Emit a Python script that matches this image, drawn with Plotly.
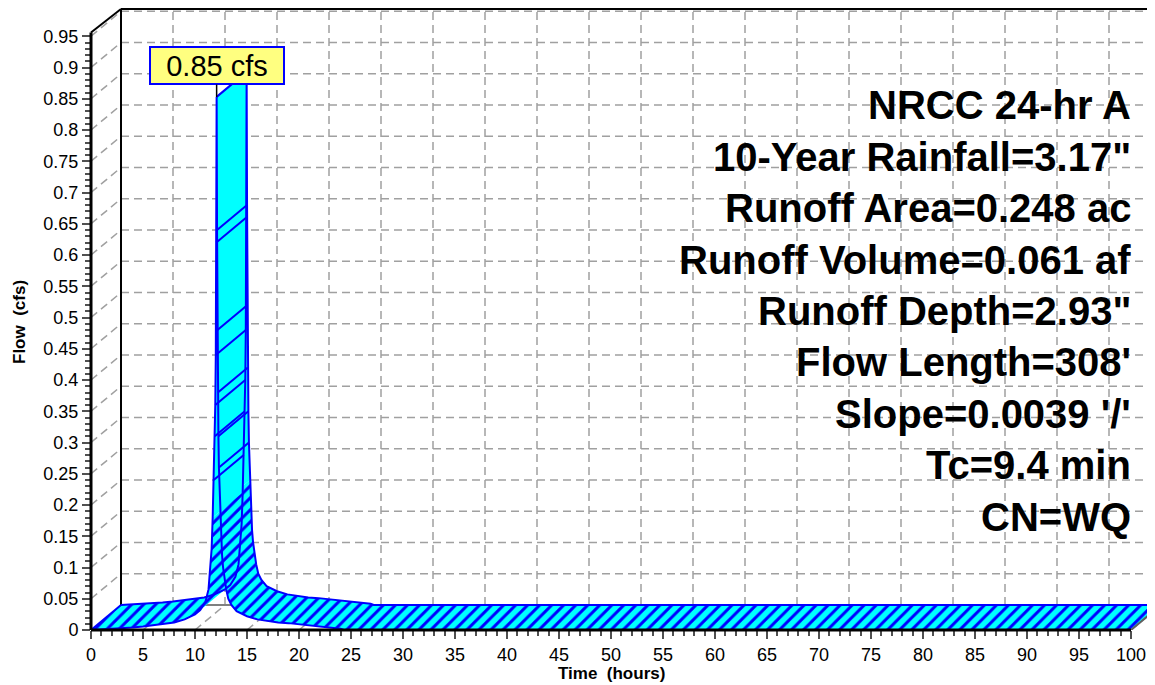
import numpy as np
import plotly.graph_objects as go

# ---------------- data ----------------
time_hr = [0, 2, 4, 5, 6, 7, 8, 9, 10, 10.5, 11.0, 11.3, 11.5, 11.6, 11.7, 11.8,
           11.9, 11.95, 12.0, 12.05, 12.08, 12.12, 12.16, 12.2, 12.25, 12.3, 12.4,
           12.5, 12.6, 12.7, 12.8, 13.0, 13.2, 13.5, 14.0, 15.0, 16.0, 17.0, 18.0,
           19.0, 20.0, 21.0, 22.0, 23.0, 24.0, 24.3, 100]
flow_cfs = [0, 0.0016, 0.004, 0.0055, 0.0075, 0.0096, 0.012, 0.017, 0.025, 0.032,
            0.045, 0.065, 0.10, 0.13, 0.18, 0.24, 0.31, 0.36, 0.44, 0.62, 0.853,
            0.64, 0.48, 0.38, 0.31, 0.26, 0.20, 0.15, 0.12, 0.10, 0.085, 0.065,
            0.05, 0.04, 0.03, 0.022, 0.017, 0.014, 0.012, 0.011, 0.009, 0.008,
            0.006, 0.004, 0.002, 0.0, 0.0]

x_tick_vals = list(range(0, 101, 5))
x_minor_vals = list(range(0, 101, 1))
y_tick_vals = [round(0.05 * i, 2) for i in range(20)]
y_tick_text = ["0", "0.05", "0.1", "0.15", "0.2", "0.25", "0.3", "0.35", "0.4", "0.45",
               "0.5", "0.55", "0.6", "0.65", "0.7", "0.75", "0.8", "0.85", "0.9", "0.95"]
y_minor_vals = [round(0.01 * i, 2) for i in range(96)]

info_lines = ["NRCC 24-hr A", "10-Year Rainfall=3.17\"", "Runoff Area=0.248 ac",
              "Runoff Volume=0.061 af", "Runoff Depth=2.93\"", "Flow Length=308'",
              "Slope=0.0039 '/'", "Tc=9.4 min", "CN=WQ"]

# ---------------- geometry (page pixels) ----------------
PAGE_OFF = 8                 # browser body margin
PW, PH = 1155, 685
PL, PB, PR, PT = 91, 630, 1155, 8   # plot area on the page
W, H = PW - PAGE_OFF, PH - PAGE_OFF
ML, MT = PL - PAGE_OFF, PT - PAGE_OFF
MR = (PW - PR)
MB = H - (PB - PAGE_OFF)
SX = 10.4      # px per hour
SY = 625.0     # px per cfs
XMAX = (PR - PL) / SX
YMAX = (PB - PT) / SY
DPX, DPY = 30, 25            # depth offset in px
DX, DY = DPX / SX, DPY / SY  # depth offset in data units
TOP = (PB - 9) / SY
FRONT_TOP = 0.956

def px(xv):
    return xv / XMAX

def py(yv):
    return yv / YMAX

def pgx(xp):
    return (xp - PL) / (PR - PL)

def pgy(yp):
    return (PB - yp) / (PB - PT)

t = np.array(time_hr, dtype=float)
q = np.array(flow_cfs, dtype=float)
n = len(t)

FONT = "Liberation Sans, Arial, sans-serif"
GRID = "#A0A0A0"

shapes = []

def seg(x0, y0, x1, y1, color, width, dash=None, layer="below", ref="data"):
    line = dict(color=color, width=width)
    if dash:
        line["dash"] = dash
    if ref == "data":
        shapes.append(dict(type="line", xref="x", yref="y", x0=x0, y0=y0, x1=x1, y1=y1,
                           line=line, layer=layer))
    else:
        shapes.append(dict(type="line", xref="paper", yref="paper", x0=px(x0), y0=py(y0),
                           x1=px(x1), y1=py(y1), line=line, layer=layer))

dash = "8px,5px"
# back wall grid
for xv in x_tick_vals[1:]:
    seg(xv + DX, DY, xv + DX, TOP, GRID, 1.5, dash)
for yv in y_tick_vals[1:]:
    seg(DX, yv + DY, XMAX, yv + DY, GRID, 1.5, dash)
    seg(0, yv, DX, yv + DY, GRID, 1.5, dash)   # left wall
for xv in x_tick_vals[1:]:
    seg(xv, 0, xv + DX, DY, GRID, 1.5, dash)   # floor
# back floor edge
seg(DX, DY, XMAX, DY, "#808080", 2)
# back wall frame
seg(DX, DY, DX, TOP, "black", 2)
seg(DX, TOP, XMAX, TOP, "black", 2)
seg(0, FRONT_TOP, DX, TOP, "black", 2, ref="paper")

# front axes (above traces, paper refs so they are not clipped)
seg(0, 0, 0, FRONT_TOP, "black", 3, layer="above", ref="paper")
seg(0, 0, 100, 0, "black", 3, layer="above", ref="paper")

# ---------------- ribbon ----------------
def quad(i):
    fx0, fy0, fx1, fy1 = t[i], q[i], t[i + 1], q[i + 1]
    pts = [(fx0, fy0), (fx1, fy1), (fx1 + DX, fy1 + DY), (fx0 + DX, fy0 + DY)]
    cross = (fx1 - fx0) * SX * DPY - (fy1 - fy0) * SY * DPX
    if cross < 0:
        pts = pts[::-1]
    return pts

STEEP = 0.2
solid_x, solid_y, pat_x, pat_y = [], [], [], []
for i in range(n - 1):
    pts = quad(i)
    if max(q[i], q[i + 1]) > STEEP:
        bx, by = solid_x, solid_y
    else:
        bx, by = pat_x, pat_y
    for (a, b) in pts + [pts[0]]:
        bx.append(a)
        by.append(b)
    bx.append(None)
    by.append(None)

fig = go.Figure()
fig.add_trace(go.Scatter(x=pat_x, y=pat_y, mode="lines", fill="toself",
                         fillcolor="#00FFFF", line=dict(width=0),
                         fillpattern=dict(shape="/", fgcolor="#0000FF", bgcolor="#00FFFF",
                                          size=8.5, solidity=0.35),
                         hoverinfo="skip", showlegend=False))
fig.add_trace(go.Scatter(x=solid_x, y=solid_y, mode="lines", fill="toself",
                         fillcolor="#00FFFF", line=dict(width=0),
                         hoverinfo="skip", showlegend=False))

# depth edges on steep part
ex, ey = [], []
for i in range(n):
    if q[i] > STEEP:
        ex += [t[i], t[i] + DX, None]
        ey += [q[i], q[i] + DY, None]
ex += [t[0], t[0] + DX, None]
ey += [q[0], q[0] + DY, None]
fig.add_trace(go.Scatter(x=ex, y=ey, mode="lines", line=dict(color="#0000FF", width=2),
                         hoverinfo="skip", showlegend=False))
# end edge
fig.add_trace(go.Scatter(x=[t[-1], t[-1] + DX], y=[q[-1], q[-1] + DY], mode="lines",
                         line=dict(color="#606060", width=2), hoverinfo="skip",
                         showlegend=False))
# back and front curves
fig.add_trace(go.Scatter(x=t + DX, y=q + DY, mode="lines",
                         line=dict(color="#0000FF", width=2), hoverinfo="skip",
                         showlegend=False))
fig.add_trace(go.Scatter(x=t, y=q, mode="lines",
                         line=dict(color="#0000FF", width=2), hoverinfo="skip",
                         showlegend=False))

# ---------------- annotations ----------------
annotations = []
ipk = int(np.argmax(q))
annotations.append(dict(x=t[ipk], y=q[ipk], xref="x", yref="y",
                        text=f"{q[ipk]:.2f} cfs", showarrow=True, arrowhead=0,
                        arrowwidth=1.5, arrowcolor="black", ax=0, ay=-31,
                        bgcolor="#FFFF80", bordercolor="#0000FF", borderwidth=2,
                        borderpad=1, width=130, height=33,
                        font=dict(family=FONT, size=29, color="black")))

base0, step = 119.3, 51.4
fs = 40
for i, line in enumerate(info_lines):
    ypix = base0 + step * i - 14
    annotations.append(dict(x=pgx(1133), y=pgy(ypix),
                            xref="paper", yref="paper", xanchor="right", yanchor="middle",
                            text=line, showarrow=False, align="right",
                            font=dict(family=FONT, size=fs, color="black", weight="bold")))

# axis titles
annotations.append(dict(x=pgx(611), y=pgy(673),
                        xref="paper", yref="paper", xanchor="center", yanchor="middle",
                        text="Time\u00a0\u00a0(hours)", showarrow=False,
                        font=dict(family=FONT, size=17, color="black", weight="bold")))
annotations.append(dict(x=pgx(19), y=pgy(322),
                        xref="paper", yref="paper", xanchor="center", yanchor="middle",
                        text="Flow\u00a0\u00a0(cfs)", showarrow=False, textangle=-90,
                        font=dict(family=FONT, size=17, color="black", weight="bold")))

axis_common = dict(showgrid=False, zeroline=False, showline=False, automargin=False,
                   ticks="outside", ticklen=8, tickwidth=1.5, tickcolor="#505050",
                   tickfont=dict(family=FONT, size=18, color="black"), fixedrange=True)

fig.update_layout(
    template="none",
    width=W, height=H,
    margin=dict(l=ML, r=MR, t=MT, b=MB, pad=0, autoexpand=False),
    paper_bgcolor="white", plot_bgcolor="white",
    shapes=shapes, annotations=annotations,
    showlegend=False,
    xaxis=dict(range=[0, XMAX], tickmode="array", tickvals=x_tick_vals,
               ticktext=[str(v) for v in x_tick_vals], tickangle=0,
               minor=dict(tickmode="array", tickvals=x_minor_vals, ticks="outside",
                          ticklen=5, tickwidth=1.5, tickcolor="#505050", showgrid=False),
               **axis_common),
    yaxis=dict(range=[0, YMAX], tickmode="array", tickvals=y_tick_vals,
               ticktext=y_tick_text,
               minor=dict(tickmode="array", tickvals=y_minor_vals, ticks="outside",
                          ticklen=5, tickwidth=1.5, tickcolor="#505050", showgrid=False),
               **axis_common),
)

fig.write_html("out.html")
